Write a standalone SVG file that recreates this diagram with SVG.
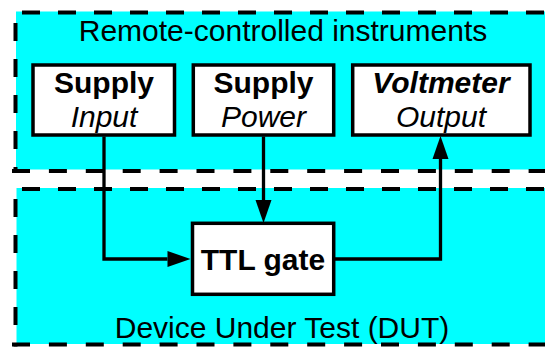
<svg xmlns="http://www.w3.org/2000/svg" width="545" height="347" viewBox="0 0 545 347">
<defs>
<style>
.fillc{fill:#00ffff;stroke:none}
.dash{stroke:#000;stroke-width:4;fill:none;stroke-dasharray:18 18}
.dashb{stroke:#000;stroke-width:4;fill:none;stroke-dasharray:18 18.9}
.box{fill:#fff;stroke:#000;stroke-width:3.5}
.t{font-family:"Liberation Sans",Arial,sans-serif;font-size:30px;text-anchor:middle;fill:#000}
.b{font-weight:bold}
.i{font-style:italic}
.wire{fill:none;stroke:#000;stroke-width:3.3}
</style>
<marker id="arr" markerUnits="userSpaceOnUse" markerWidth="23" markerHeight="16" refX="0" refY="8" orient="auto" overflow="visible"><path d="M0,0 L23,8 L0,16 z" fill="#000"/></marker>
</defs>

<g id="remote-instruments">
<rect class="fillc" x="16" y="11.5" width="544" height="158"/>
<line class="dash" x1="15.5" y1="12.5" x2="560" y2="12.5" stroke-dashoffset="29.5"/>
<line class="dash" x1="15.5" y1="12.5" x2="15.5" y2="173" stroke-dashoffset="25.5"/>
<line class="dashb" x1="12" y1="171" x2="560" y2="171"/>
<text class="t" x="283" y="40.5">Remote-controlled instruments</text>
</g>

<g id="dut">
<rect class="fillc" x="16.5" y="188" width="544" height="156"/>
<line class="dash" x1="15.5" y1="189" x2="560" y2="189" stroke-dashoffset="29.5"/>
<line class="dash" x1="15.5" y1="189" x2="15.5" y2="346.5" stroke-dashoffset="26"/>
<line class="dashb" x1="12" y1="344.5" x2="560" y2="344.5"/>
<text class="t" x="282" y="338">Device Under Test (DUT)</text>
</g>

<g id="connectors">
<path class="wire" d="M104,136.5 V259 H167.5" marker-end="url(#arr)"/>
<path class="wire" d="M263.5,136.5 V200" marker-end="url(#arr)"/>
<path class="wire" d="M333.7,259 H440.5 V159" marker-end="url(#arr)"/>
</g>

<g id="supply-input">
<rect class="box" x="33" y="65" width="141.5" height="70"/>
<text class="t b" x="104" y="93">Supply</text>
<text class="t i" x="104" y="127">Input</text>
</g>

<g id="supply-power">
<rect class="box" x="193.3" y="65" width="140.4" height="70"/>
<text class="t b" x="263.5" y="93">Supply</text>
<text class="t i" x="263.5" y="127">Power</text>
</g>

<g id="voltmeter-output">
<rect class="box" x="352.7" y="65" width="177.3" height="70"/>
<text class="t b i" x="441" y="93">Voltmeter</text>
<text class="t i" x="441" y="127">Output</text>
</g>

<g id="ttl-gate">
<rect class="box" x="192.5" y="223.3" width="141.2" height="71"/>
<text class="t b" x="263" y="270">TTL gate</text>
</g>
</svg>
